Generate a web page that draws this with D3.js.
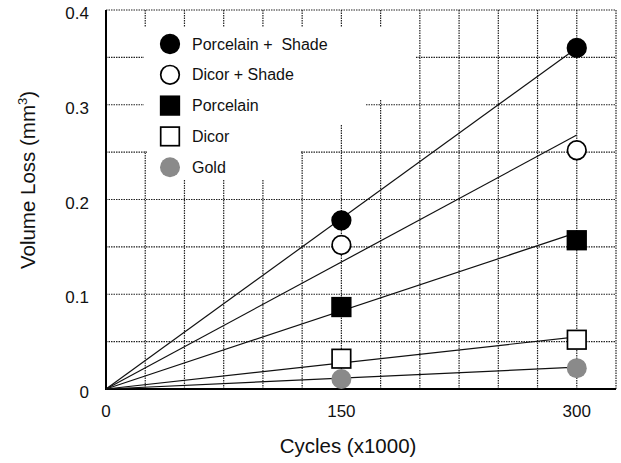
<!DOCTYPE html>
<html lang="en">
<head>
    <meta charset="UTF-8">
    <title>Volume loss vs cycles</title>
    <style>
        body { margin: 0; background: #fff; }
        svg { display: block; font-family: "Liberation Sans", Arial, sans-serif; }
        text { white-space: pre; }
    </style>
</head>
<body>
    <div id="stage"></div>
    <script src="https://d3js.org/d3.v7.min.js"></script>
    <script>
        // data
        const cycles = [150, 300];
        const seriesNames = ['Porcelain +  Shade', 'Dicor + Shade', 'Porcelain', 'Dicor', 'Gold'];
        const porcelainShade = [0.178, 0.36];
        const dicorShade = [0.152, 0.252];
        const porcelain = [0.0865, 0.157];
        const dicor = [0.032, 0.052];
        const gold = [0.0105, 0.022];
        // fitted lines through the origin, value at 300
        const fitAt300 = [0.36, 0.268, 0.165, 0.055, 0.023];
        const xTicks = [0, 150, 300];
        const yTicks = [0, 0.1, 0.2, 0.3, 0.4];

        const values = [porcelainShade, dicorShade, porcelain, dicor, gold];
        const markers = [
            { shape: 'circle', fill: '#000' },
            { shape: 'circle', fill: '#fff' },
            { shape: 'square', fill: '#000' },
            { shape: 'square', fill: '#fff' },
            { shape: 'circle', fill: '#8a8a8a', noStroke: true }
        ];

        const W = 621, H = 463;
        const svg = d3.select('#stage').append('svg')
            .attr('width', W).attr('height', H);

        const x = d3.scaleLinear().domain([0, 325]).range([106, 616]);
        const y = d3.scaleLinear().domain([0, 0.4]).range([389, 10]);

        // dotted grid
        const grid = svg.append('g')
            .attr('stroke', '#222').attr('stroke-width', 1.2)
            .attr('stroke-dasharray', '1.5,1');
        grid.selectAll('.vg').data(d3.range(25, 326, 25)).join('line')
            .attr('x1', d => x(d)).attr('x2', d => x(d))
            .attr('y1', y(0)).attr('y2', y(0.4));
        grid.selectAll('.hg').data(d3.range(1, 9).map(i => i * 0.05)).join('line')
            .attr('y1', d => y(d)).attr('y2', d => y(d))
            .attr('x1', x(0)).attr('x2', x(325));

        // white area behind the legend
        const blank = [[144, 27, 415, 60], [144, 60, 396, 100], [144, 100, 366, 125],
                       [144, 125, 322, 151], [147, 151, 300, 180]];
        svg.append('g').selectAll('rect').data(blank).join('rect')
            .attr('x', d => d[0]).attr('y', d => d[1])
            .attr('width', d => d[2] - d[0]).attr('height', d => d[3] - d[1])
            .attr('fill', '#fff');

        // solid axes
        svg.append('line').attr('x1', x(0)).attr('x2', x(0))
            .attr('y1', y(0.4)).attr('y2', y(0) + 1)
            .attr('stroke', '#000').attr('stroke-width', 2);
        svg.append('line').attr('x1', x(0) - 1).attr('x2', x(325))
            .attr('y1', y(0)).attr('y2', y(0))
            .attr('stroke', '#000').attr('stroke-width', 2);

        // fit lines
        svg.append('g').selectAll('line').data(fitAt300).join('line')
            .attr('x1', x(0)).attr('y1', y(0))
            .attr('x2', x(300)).attr('y2', d => y(d))
            .attr('stroke', '#111').attr('stroke-width', 1.2);

        function drawMarker(g, m, cx, cy) {
            if (m.shape === 'circle') {
                g.append('circle').attr('cx', cx).attr('cy', cy).attr('r', m.noStroke ? 10 : 9.3)
                    .attr('fill', m.fill)
                    .attr('stroke', m.noStroke ? 'none' : '#000').attr('stroke-width', 1.7);
            } else {
                g.append('rect').attr('x', cx - 9.3).attr('y', cy - 9.3)
                    .attr('width', 18.6).attr('height', 18.6)
                    .attr('fill', m.fill).attr('stroke', '#000').attr('stroke-width', 1.7);
            }
        }

        const pts = svg.append('g');
        values.forEach((vals, i) => {
            vals.forEach((v, j) => drawMarker(pts, markers[i], x(cycles[j]), y(v)));
        });

        // legend
        const leg = svg.append('g');
        seriesNames.forEach((name, i) => {
            const ly = 44 + i * 30.8;
            drawMarker(leg, markers[i], 170, ly);
            leg.append('text').attr('x', 192).attr('y', ly + 5.5)
                .attr('font-size', 16).attr('fill', '#111').text(name);
        });

        // tick labels
        svg.append('g').selectAll('text').data(yTicks).join('text')
            .attr('x', 89).attr('y', d => y(d) + 9)
            .attr('text-anchor', 'end').attr('font-size', 17).attr('fill', '#111')
            .text(d => d === 0 ? '0' : d3.format('.1f')(d));
        svg.append('g').selectAll('text').data(xTicks).join('text')
            .attr('x', d => x(d)).attr('y', 417)
            .attr('text-anchor', 'middle').attr('font-size', 17).attr('fill', '#111')
            .text(d => d);

        // axis titles
        svg.append('text').attr('x', 348).attr('y', 453)
            .attr('text-anchor', 'middle').attr('font-size', 20.5).attr('fill', '#111')
            .text('Cycles (x1000)');
        const yt = svg.append('text')
            .attr('transform', 'translate(35,180) rotate(-90)')
            .attr('text-anchor', 'middle').attr('font-size', 20.5).attr('fill', '#111');
        yt.append('tspan').text('Volume Loss (mm');
        yt.append('tspan').attr('font-size', 13).attr('dy', -8).text('3');
        yt.append('tspan').attr('dy', 8).text(')');
    </script>
</body>
</html>
